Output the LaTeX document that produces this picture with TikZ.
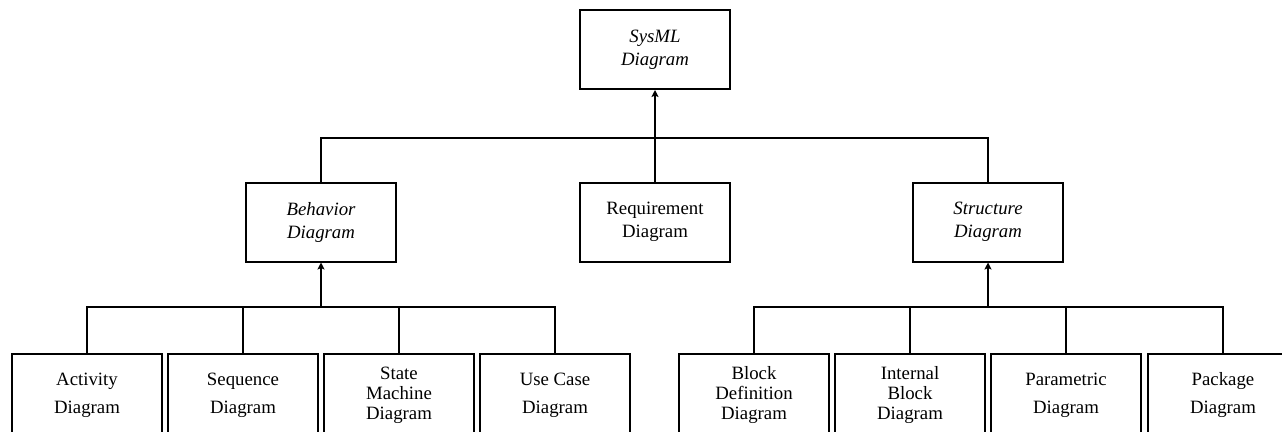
\documentclass[tikz,border=0pt]{standalone}
\usepackage{fontspec}
\setmainfont{Liberation Serif}
\usetikzlibrary{arrows.meta}
\begin{document}
\begin{tikzpicture}[x=1pt,y=-1pt,
  box/.style={draw, line width=2pt, minimum width=150pt, minimum height=79pt,
              inner sep=0pt, align=center, font=\fontsize{18.8}{23}\selectfont},
  abstract/.style={box, font=\fontsize{18.8}{23}\selectfont\itshape},
  leaf/.style={box, minimum height=83pt},
  wide/.style={leaf, font=\fontsize{18.8}{28}\selectfont},
  tight/.style={leaf, font=\fontsize{18.8}{20}\selectfont},
  link/.style={line width=2pt},
  up/.style={link, -{Stealth[length=7pt,width=7pt,inset=1.5pt]}}]
\useasboundingbox (0,0) rectangle (1282,431);
\clip (0,0) rectangle (1282,431);

% root
\node[abstract] (sysml) at (655,49.5) {SysML\\Diagram};

% second level
\node[abstract] (behavior) at (321,222) {Behavior\\Diagram};
\node[box] (requirement) at (655,222) {Requirement\\Diagram};
\node[abstract] (structure) at (988,222) {Structure\\Diagram};

% leaves
\node[wide]  (activity)   at (87,395.5)   {Activity\\Diagram};
\node[wide]  (sequence)   at (243,395.5)  {Sequence\\Diagram};
\node[tight] (statemach)  at (399,395.5)  {State\\Machine\\Diagram};
\node[wide]  (usecase)    at (555,395.5)  {Use Case\\Diagram};
\node[tight] (blockdef)   at (754,395.5)  {Block\\Definition\\Diagram};
\node[tight] (ibd)        at (910,395.5)  {Internal\\Block\\Diagram};
\node[wide]  (parametric) at (1066,395.5) {Parametric\\Diagram};
\node[wide]  (package)    at (1223,395.5) {Package\\Diagram};

% buses
\coordinate (busTop) at (655,138);
\coordinate (busB) at (321,307);
\coordinate (busS) at (988,307);

\draw[link] (behavior.north) |- (busTop) -| (structure.north);
\draw[up] (requirement.north) -- (sysml.south);

\draw[link] (activity.north) |- (busB) -| (usecase.north);
\draw[link] (sequence.north) -- (sequence.north |- busB);
\draw[link] (statemach.north) -- (statemach.north |- busB);
\draw[up] (busB) -- (behavior.south);

\draw[link] (blockdef.north) |- (busS) -| (package.north);
\draw[link] (ibd.north) -- (ibd.north |- busS);
\draw[link] (parametric.north) -- (parametric.north |- busS);
\draw[up] (busS) -- (structure.south);
\end{tikzpicture}
\end{document}
